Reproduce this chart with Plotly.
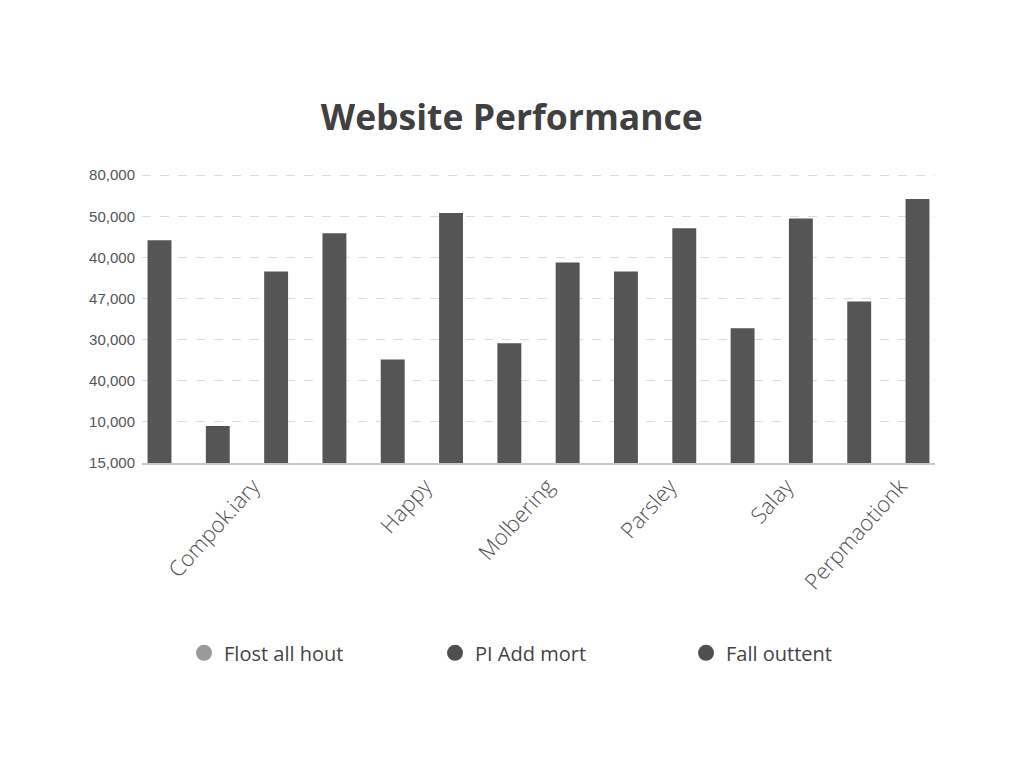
import plotly.graph_objects as go

# ---- data ----
bar_index = list(range(14))
bar_values = [54200, 9000, 46600, 55900, 25200, 60800, 29100,
              48800, 46600, 57100, 32800, 59500, 39300, 64200]
category_slots = [1.6, 4.55, 6.65, 8.75, 10.75, 12.7]
category_labels = ["Compok.iary", "Happy", "Molbering", "Parsley", "Salay", "Perpmaotionk"]
y_tick_values = [0, 10000, 20000, 30000, 40000, 50000, 60000, 70000]
y_tick_labels = ["15,000", "10,000", "40,000", "30,000", "47,000", "40,000", "50,000", "80,000"]
legend_names = ["Flost all hout", "PI Add mort", "Fall outtent"]
legend_colors = ["#9a9a9a", "#4f4f4f", "#4f4f4f"]

BAR_COLOR = "#555555"

fig = go.Figure()
fig.add_trace(go.Bar(
    x=bar_index, y=bar_values, width=0.41,
    marker=dict(color=BAR_COLOR, line=dict(width=0)),
    showlegend=False, hoverinfo="y",
))
for name, col in zip(legend_names, legend_colors):
    fig.add_trace(go.Scatter(
        x=[None], y=[None], mode="markers", name=name,
        marker=dict(symbol="circle", size=17, color=col),
    ))

fig.update_layout(
    width=1024, height=768,
    paper_bgcolor="white", plot_bgcolor="white",
    margin=dict(l=134, r=97, t=166, b=313),
    title=dict(text="<b>Website Performance</b>", x=0.492, xanchor="center",
               y=1 - 110 / 768, yanchor="middle",
               font=dict(family="Open Sans", size=35.5, color="#404040")),
    xaxis=dict(range=[-0.3, 13.3], tickmode="array", tickvals=category_slots,
               ticktext=category_labels, tickangle=-48,
               tickfont=dict(family="Open Sans", size=22, color="#505050", weight=300),
               showgrid=False, zeroline=False, showline=True,
               linecolor="#c8c8c8", linewidth=1.5, ticks=""),
    yaxis=dict(range=[0, 70300], tickmode="array", tickvals=y_tick_values,
               ticktext=y_tick_labels,
               tickfont=dict(family="Liberation Sans", size=15, color="#555555"),
               showgrid=True, gridcolor="#dcdcdc", griddash="dash", gridwidth=1,
               zeroline=False, showline=False, ticks="", ticklabelstandoff=6),
    legend=dict(orientation="h", x=0.053, xanchor="left", y=-0.657, yanchor="middle",
                font=dict(family="Open Sans", size=20, color="#444444"),
                entrywidth=206, entrywidthmode="pixels",
                bgcolor="rgba(0,0,0,0)"),
    bargap=0.5,
)

fig.write_html("out.html")
